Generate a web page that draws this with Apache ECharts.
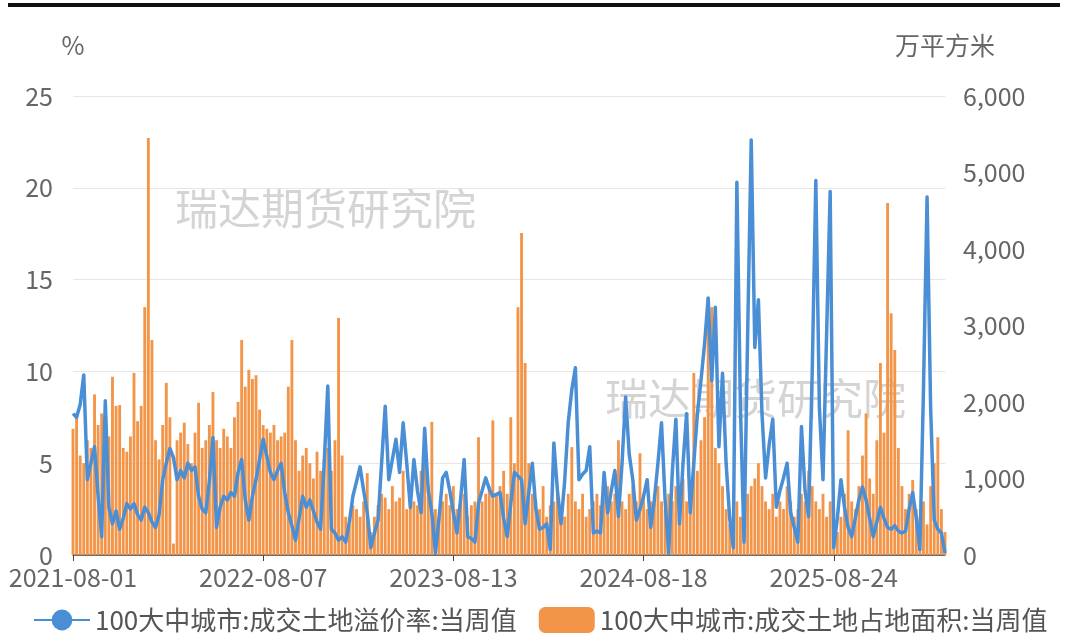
<!DOCTYPE html>
<html>
<head>
<meta charset="utf-8">
<script src="https://cdn.jsdelivr.net/npm/echarts@6/dist/echarts.min.js"></script>
<style>
  html, body { margin: 0; padding: 0; background: #fff; }
  #main { width: 1068px; height: 638px; }
</style>
</head>
<body>
<div id="main"></div>
<script>
// 周度数据：2021-08-01 起，共 244 周
const startDate = '2021-08-01'
const weekCount = 244

// 100大中城市:成交土地溢价率:当周值 (%)
const premiumRate = [
  7.7, 7.5, 8.2, 9.8, 4.1, 5.0, 5.9, 3.2, 1.0, 8.4,
  2.6, 1.7, 2.4, 1.4, 2.0, 2.8, 2.5, 2.8, 2.2, 1.9,
  2.6, 2.3, 1.8, 1.5, 2.2, 4.1, 5.0, 5.8, 5.3, 4.1,
  4.6, 4.2, 5.0, 4.6, 4.8, 3.2, 2.5, 2.3, 4.0, 6.4,
  1.5, 2.6, 3.2, 3.0, 3.4, 3.2, 4.5, 5.2, 3.0, 1.9,
  3.2, 4.1, 5.2, 6.3, 5.4, 4.5, 4.1, 4.6, 5.0, 3.4,
  2.3, 1.6, 0.8, 2.0, 3.2, 2.6, 3.0, 2.4, 1.8, 1.4,
  5.0, 9.2, 1.4, 1.2, 0.8, 1.0, 0.7, 1.8, 3.2, 4.0,
  4.8, 3.5, 2.3, 0.4, 1.2, 1.9, 5.0, 8.1, 4.1, 5.2,
  6.3, 4.5, 7.2, 5.0, 2.6, 5.2, 3.5, 2.3, 6.9, 3.5,
  2.3, 0.1, 2.0, 4.2, 4.5, 3.5, 2.3, 1.2, 3.0, 5.2,
  1.0, 0.9, 0.7, 2.8, 3.5, 4.2, 3.6, 3.2, 3.3, 3.4,
  2.0, 1.0, 2.8, 4.5, 4.3, 4.1, 1.7, 3.4, 5.0, 2.5,
  1.4, 1.5, 1.7, 0.3, 6.1, 3.5, 1.7, 4.0, 7.2, 9.0,
  10.2, 4.1, 4.4, 4.6, 5.9, 1.2, 1.3, 1.2, 4.5, 2.3,
  3.5, 4.6, 2.1, 5.0, 8.6, 5.5, 4.1, 1.9, 2.5, 3.2,
  4.1, 1.5, 3.0, 5.0, 7.2, 3.0, 0.1, 4.5, 7.4, 1.7,
  5.0, 7.7, 2.3, 5.0, 7.7, 9.5, 11.5, 14.0, 9.5, 13.5,
  5.9, 9.9, 5.0, 2.0, 0.4, 20.3, 8.0, 0.7, 12.0, 22.6,
  11.3, 13.9, 7.7, 4.2, 6.0, 7.4, 2.6, 3.5, 4.2, 5.0,
  2.3, 1.5, 0.7, 7.0, 3.5, 2.1, 10.0, 20.4, 8.0, 4.1,
  12.0, 19.8, 0.4, 2.0, 4.1, 2.6, 1.5, 1.0, 2.0, 3.0,
  3.7, 3.0, 2.0, 1.0, 1.8, 2.6, 2.0, 1.5, 1.4, 1.6,
  1.3, 1.2, 1.3, 2.5, 3.4, 2.0, 0.3, 9.0, 19.5, 8.0,
  1.9, 1.4, 1.2, 0.1
]

// 100大中城市:成交土地占地面积:当周值 (万平方米)
const landArea = [
  1650, 1850, 1300, 1200, 1500, 1400, 2100, 1700, 1850, 1450,
  1550, 2330, 1950, 1960, 1400, 1350, 1550, 2380, 1750, 1950,
  3240, 5450, 2810, 1500, 1250, 1700, 2250, 1800, 150, 1500,
  1600, 1730, 1450, 1200, 1600, 1990, 1400, 1500, 1700, 2130,
  1500, 1400, 1650, 1550, 1400, 1800, 2000, 2810, 2200, 2420,
  2300, 2350, 1900, 1700, 1650, 1600, 1700, 1500, 1550, 1600,
  2200, 2810, 1500, 1100, 1300, 1400, 1200, 1000, 1350, 1100,
  1250, 1400, 1100, 1500, 3100, 1300, 500, 400, 650, 600,
  500, 700, 1070, 300, 500, 650, 800, 750, 600, 900,
  700, 750, 1100, 600, 800, 700, 650, 1100, 1650, 900,
  1740, 600, 500, 700, 800, 650, 900, 600, 700, 800,
  500, 650, 700, 1540, 700, 800, 900, 1760, 800, 900,
  1100, 800, 1800, 1200, 3240, 4210, 2510, 1200, 800, 700,
  600, 900, 500, 650, 700, 900, 600, 500, 800, 1410,
  700, 600, 800, 500, 600, 700, 800, 650, 750, 900,
  700, 800, 1500, 700, 600, 800, 900, 700, 1330, 800,
  600, 700, 800, 900, 700, 600, 800, 700, 900, 800,
  1000, 700, 900, 2380, 1100, 1500, 1800, 3370, 3240, 1400,
  1200, 900, 600, 400, 500, 700, 500, 600, 800, 900,
  1000, 1200, 900, 700, 600, 800, 500, 700, 600, 900,
  700, 500, 600, 800, 700, 1100, 900, 700, 600, 800,
  500, 700, 600, 300, 500, 800, 1630, 700, 600, 900,
  1300, 1850, 1000, 800, 1500, 2510, 1600, 4600, 3160, 2680,
  1400, 900, 600, 800, 980, 600, 500, 700, 400, 900,
  1200, 1540, 600, 300
]

// 生成周度日期
function buildDates(start, n) {
  const out = []
  const d = new Date(start + 'T00:00:00Z')
  for (let i = 0; i < n; i++) {
    const y = d.getUTCFullYear()
    const m = d.getUTCMonth() + 1 < 10 ? '0' + (d.getUTCMonth() + 1) : d.getUTCMonth() + 1
    const day = d.getUTCDate() < 10 ? '0' + d.getUTCDate() : d.getUTCDate()
    out.push(y + '-' + m + '-' + day)
    d.setUTCDate(d.getUTCDate() + 7)
  }
  return out
}
const dates = buildDates(startDate, weekCount)

const FONT = '"Noto Sans CJK SC", "Noto Sans", sans-serif'
const TEXT = '#666666'

const myChart = echarts.init(document.getElementById('main'))
myChart.setOption({
  animation: false,
  textStyle: { fontFamily: FONT },
  grid: { left: 73, right: 123, top: 96, bottom: 83 },
  graphic: [
    { type: 'rect', left: 8, top: 3, shape: { width: 1052, height: 4 }, style: { fill: '#111' } },
    {
      type: 'text', left: 175, top: 187, z: 0,
      style: { text: '瑞达期货研究院', font: '43px "Noto Sans CJK SC"', fill: '#d4d4d4' }
    },
    {
      type: 'text', left: 605, top: 377, z: 0,
      style: { text: '瑞达期货研究院', font: '43px "Noto Sans CJK SC"', fill: '#d4d4d4' }
    }
  ],
  legend: {
    left: 28,
    bottom: 0,
    itemWidth: 56,
    itemHeight: 26,
    itemGap: 22,
    textStyle: { fontSize: 26, color: '#555', fontFamily: FONT },
    data: ['100大中城市:成交土地溢价率:当周值', '100大中城市:成交土地占地面积:当周值']
  },
  xAxis: {
    type: 'category',
    data: dates,
    boundaryGap: false,
    axisLine: { lineStyle: { color: '#444', width: 1.5 } },
    axisTick: { interval: 52, length: 6, lineStyle: { color: '#444' } },
    axisLabel: { interval: 52, fontSize: 25, color: TEXT, margin: 10, fontFamily: FONT }
  },
  yAxis: [
    {
      type: 'value',
      name: '%',
      min: 0,
      max: 25,
      interval: 5,
      nameGap: 38,
      nameTextStyle: { fontSize: 25, color: TEXT, align: 'center', fontFamily: FONT },
      axisLine: { show: false },
      axisTick: { show: false },
      axisLabel: { fontSize: 25, color: TEXT, margin: 20, fontFamily: FONT },
      splitLine: { lineStyle: { color: '#e6e6e6' } }
    },
    {
      type: 'value',
      name: '万平方米',
      min: 0,
      max: 6000,
      interval: 1000,
      nameGap: 38,
      nameTextStyle: { fontSize: 25, color: TEXT, align: 'center', fontFamily: FONT },
      axisLine: { show: false },
      axisTick: { show: false },
      axisLabel: {
        fontSize: 25, color: TEXT, margin: 18, fontFamily: FONT,
        formatter: function (v) { return v.toLocaleString('en-US') }
      },
      splitLine: { show: false }
    }
  ],
  series: [
    {
      name: '100大中城市:成交土地溢价率:当周值',
      type: 'line',
      yAxisIndex: 0,
      data: premiumRate,
      symbol: 'circle',
      symbolSize: 12,
      showSymbol: false,
      z: 3,
      itemStyle: { color: '#4a8fd6' },
      lineStyle: { color: '#4a8fd6', width: 3.5, join: 'round' }
    },
    {
      name: '100大中城市:成交土地占地面积:当周值',
      type: 'bar',
      yAxisIndex: 1,
      data: landArea,
      barCategoryGap: '20%',
      z: 2,
      itemStyle: { color: '#f39548' }
    }
  ]
})
</script>
</body>
</html>
